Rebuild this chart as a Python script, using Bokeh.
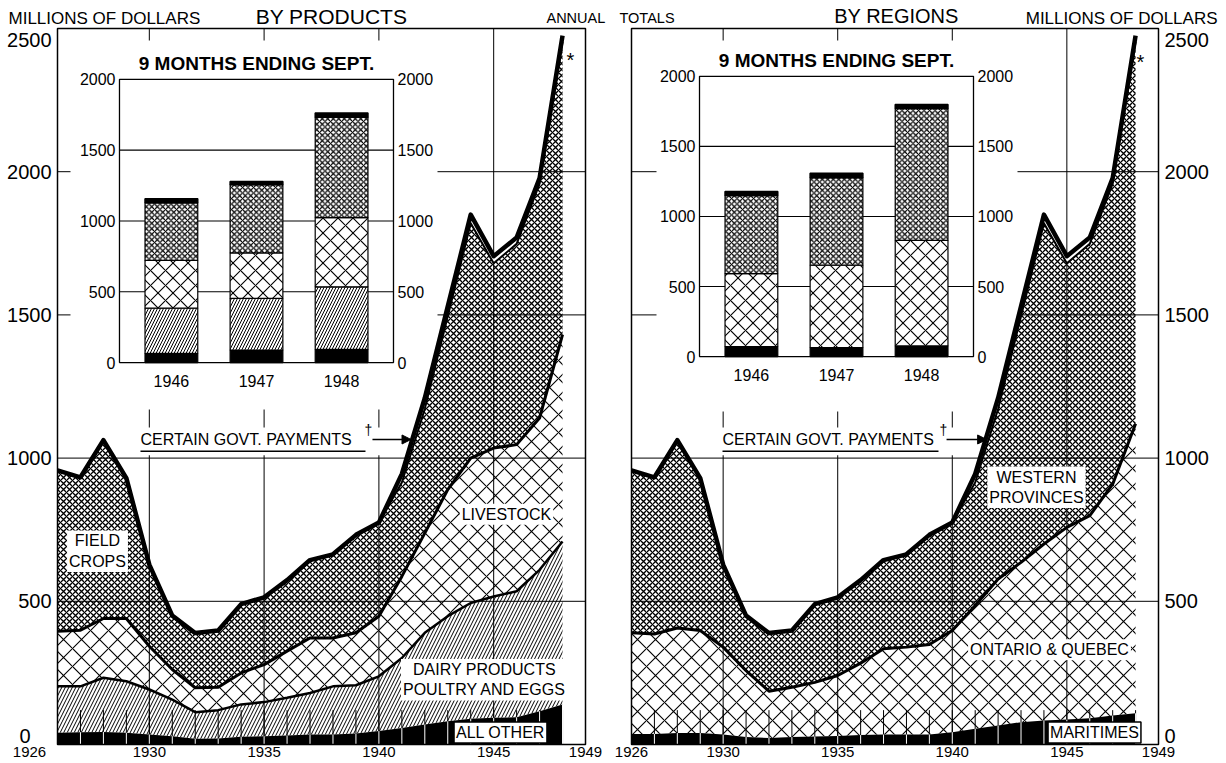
from bokeh.plotting import figure
from bokeh.models import Range1d, ColumnDataSource, Label, Arrow, NormalHead
from bokeh.layouts import row
from bokeh.transform import stack
from bokeh.core.properties import value
from bokeh.embed import file_html
from bokeh.resources import INLINE

FONT = "Liberation Sans"

# ---------------- data (millions of dollars) ----------------
years = list(range(1926, 1949))

# by products
all_other = [41, 43, 44, 41, 35, 29, 20, 21, 27, 29, 31, 35, 35, 38, 47, 58, 70, 81, 90, 93, 95, 116, 140]
dairy_poultry_eggs = [162, 160, 189, 180, 157, 128, 93, 99, 113, 119, 132, 145, 168, 169, 191, 244, 320, 367, 404, 424, 440, 494, 569]
livestock = [192, 196, 207, 219, 151, 105, 85, 80, 110, 131, 163, 192, 169, 183, 210, 285, 348, 442, 506, 518, 512, 530, 722]
field_crops = [562, 534, 623, 490, 285, 188, 191, 198, 240, 235, 248, 272, 292, 342, 327, 328, 434, 605, 820, 645, 701, 818, 1022]
govt_payments = [0, 0, 0, 0, 0, 0, 0, 0, 0, 0, 0, 0, 0, 0, 0, 30, 38, 35, 30, 25, 22, 20, 22]

# by regions
maritimes = [37, 37, 40, 40, 35, 26, 23, 26, 28, 30, 33, 35, 35, 35, 43, 55, 66, 78, 84, 87, 92, 101, 109]
ontario_quebec = [353, 349, 367, 358, 305, 232, 163, 174, 189, 211, 251, 299, 305, 314, 355, 430, 512, 558, 616, 671, 707, 808, 1011]
western_provinces = [567, 547, 656, 532, 288, 192, 203, 198, 273, 273, 290, 310, 324, 383, 377, 430, 594, 859, 1120, 922, 949, 1049, 1333]

# 9 months ending September
sept_years = [1946, 1947, 1948]
sept_all_other = [65, 88, 93]
sept_dairy = [319, 365, 442]
sept_livestock = [337, 321, 488]
sept_field_crops = [407, 482, 710]
sept_govt_p = [28, 23, 30]
sept_maritimes = [71, 64, 76]
sept_ontario_quebec = [521, 588, 753]
sept_western = [557, 625, 941]
sept_govt_r = [29, 31, 29]

y_ticks = [0, 500, 1000, 1500, 2000, 2500]
inset_ticks = [0, 500, 1000, 1500, 2000]
x_label_years = [1926, 1930, 1935, 1940, 1945, 1949]
grid_years = [1930, 1935, 1940, 1945]
grid_values = [500, 1000, 1500, 2000]
tick_years = list(range(1927, 1949))

X0, X1, Y0, Y1 = 1926, 1949, 0, 2500
FIG_H = 761
# end labels of the value scale sit slightly inside the frame (layout nudges, value units)
Y_LABEL_NUDGE = {0: 30, 2500: -40}

# ---------------- styles ----------------
MAIN_STYLE = {
    "black": dict(fill_color="black", fill_alpha=1),
    "diag": dict(fill_alpha=0, hatch_pattern="/", hatch_scale=7, hatch_weight=1.0, hatch_color="black"),
    "open": dict(fill_alpha=0, hatch_pattern="x", hatch_scale=18, hatch_weight=1.1, hatch_color="black"),
    "dense": dict(fill_alpha=0, hatch_pattern="x", hatch_scale=6, hatch_weight=1.3, hatch_color="black"),
    "white": dict(fill_color="white", fill_alpha=1),
}
BAR_STYLE = {
    "black": dict(fill_color="black", line_width=1.2),
    "diag": dict(fill_color="white", hatch_pattern="/", hatch_scale=6, hatch_weight=1.0, hatch_color="black", line_width=1.2),
    "open": dict(fill_color="white", hatch_pattern="x", hatch_scale=15, hatch_weight=1.1, hatch_color="black", line_width=1.2),
    "dense": dict(fill_color="white", hatch_pattern="x", hatch_scale=5.5, hatch_weight=1.2, hatch_color="black", line_width=1.2),
    "white": dict(fill_color="black", line_width=1.5),
}


def linked_range(lo, hi, m0, m1, i0, i1):
    k = (m1 - m0) / (i1 - i0)
    return Range1d(start=i0 + (lo - m0) / k, end=i0 + (hi - m0) / k)


def lab(p, x, y, text, size="16px", align="center", baseline="middle", **kw):
    p.add_layout(Label(x=x, y=y, text=text, text_font=FONT, text_font_size=size,
                       text_align=align, text_baseline=baseline, text_color="black", **kw))


def panel(width, bx0, bx1, by0, by1, y_side, x_label_dx, y_label_dx, layers, line_levels, sept_layers,
          ix_main, iy_main, box, govt_box, note_x, arrow_x, star, labels, headers):
    kx = (X1 - X0) / (bx1 - bx0)
    ky = (Y1 - Y0) / (by1 - by0)
    xr = Range1d(X0 - bx0 * kx, X1 + (width - bx1) * kx)
    yr = Range1d(Y0 - (FIG_H - by1) * ky, Y1 + by0 * ky)
    p = figure(width=width, height=FIG_H, x_range=xr, y_range=yr,
               output_backend="svg", toolbar_location=None,
               x_axis_location=None, y_axis_location=None, min_border=0,
               background_fill_color="white", border_fill_color="white", outline_line_color=None)
    p.grid.visible = False

    # grid
    p.segment(x0=grid_years, x1=grid_years, y0=[Y0] * 4, y1=[Y1] * 4, line_color="black", line_width=1)
    p.segment(x0=[X0] * 4, x1=[X1] * 4, y0=grid_values, y1=grid_values, line_color="black", line_width=1)

    # white panels that hide the grid behind the inset and the note
    p.quad(left=[box[0]], right=[box[1]], bottom=[box[2]], top=[box[3]], fill_color="white", line_color=None)
    p.quad(left=[govt_box[0]], right=[govt_box[1]], bottom=[govt_box[2]], top=[govt_box[3]],
           fill_color="white", line_color=None)

    # stacked areas
    data = {"year": years}
    names = []
    for name, vals, sty in layers:
        data[name] = vals
        names.append(name)
    src = ColumnDataSource(data)
    for i, (name, vals, sty) in enumerate(layers):
        y1 = stack(*names[:i]) if i else 0
        p.varea(x="year", y1=y1, y2=stack(*names[:i + 1]), source=src, **MAIN_STYLE[sty])
    for k, w in line_levels:
        p.line(x="year", y=stack(*names[:k]), source=src, line_color="black", line_width=w, line_join="round")

    # year ticks along the bottom (white where they cross the black layer) and the chart border
    p.segment(x0=tick_years, x1=tick_years, y0=[Y0] * len(tick_years), y1=[120] * len(tick_years),
              line_color="black", line_width=1)
    p.segment(x0="year", x1="year", y0=0, y1=stack(names[0]), source=src, line_color="white", line_width=1)
    p.quad(left=[X0], right=[X1], bottom=[Y0], top=[Y1], fill_color=None, line_color="black", line_width=1.5)

    # axis labels
    tk = dict(text_font=value(FONT), text_color="black", text_baseline="middle")
    xl = ColumnDataSource(dict(x=x_label_years, t=[str(y) for y in x_label_years], dx=x_label_dx))
    p.text(x="x", y=-25, text="t", x_offset="dx", source=xl, text_align="center",
           text_font_size="15px", **tk)
    yl = ColumnDataSource(dict(y=[v + Y_LABEL_NUDGE.get(v, 0) for v in y_ticks],
                               t=[str(v) for v in y_ticks], dx=y_label_dx))
    if y_side == "left":
        p.text(x=X0, y="y", text="t", x_offset="dx", source=yl, text_align="right",
               text_font_size="20px", **tk)
    else:
        p.text(x=X1, y="y", text="t", x_offset="dx", source=yl, text_align="left",
               text_font_size="20px", **tk)

    # inset
    p.extra_x_ranges = {"ix": linked_range(xr.start, xr.end, ix_main[0], ix_main[1], 1945.39, 1948.61)}
    p.extra_y_ranges = {"iy": linked_range(yr.start, yr.end, iy_main[0], iy_main[1], 0, 2000)}
    kw = dict(x_range_name="ix", y_range_name="iy")
    IX0, IX1 = 1945.39, 1948.61
    p.segment(x0=[IX0] * 3, x1=[IX1] * 3, y0=[500, 1000, 1500], y1=[500, 1000, 1500],
              line_color="black", line_width=1.1, **kw)
    sdata = {"year": sept_years, "label": [str(y) for y in sept_years]}
    snames = []
    for name, vals, sty in sept_layers:
        sdata[name] = vals
        snames.append(name)
    ssrc = ColumnDataSource(sdata)
    for i, (name, vals, sty) in enumerate(sept_layers):
        bottom = stack(*snames[:i]) if i else 0
        p.vbar(x="year", width=0.62, bottom=bottom, top=stack(*snames[:i + 1]), source=ssrc,
               line_color="black", **BAR_STYLE[sty], **kw)
    p.quad(left=[IX0], right=[IX1], bottom=[0], top=[2000], fill_color=None,
           line_color="black", line_width=1.3, **kw)
    p.text(x=[IX0] * 5, y=inset_ticks, text=[str(t) for t in inset_ticks], x_offset=-4,
           text_align="right", text_font_size="16px", **tk, **kw)
    p.text(x=[IX1] * 5, y=inset_ticks, text=[str(t) for t in inset_ticks], x_offset=4,
           text_align="left", text_font_size="16px", **tk, **kw)
    p.text(x="year", y=-132, text="label", source=ssrc, text_align="center", text_font_size="16px", **tk, **kw)
    p.text(x=[(IX0 + IX1) / 2], y=[2113], text=["9 MONTHS ENDING SEPT."], text_align="center",
           text_font_size="19px", text_font_style="bold", **tk, **kw)

    # certain govt payments note
    lab(p, note_x[0], 1065, "CERTAIN GOVT. PAYMENTS", align="left")
    p.segment(x0=[note_x[0]], x1=[note_x[1]], y0=[1024], y1=[1024], line_color="black", line_width=1.5)
    lab(p, note_x[2], 1097, "\u2020", size="14px")
    p.add_layout(Arrow(end=NormalHead(size=9, fill_color="black", line_color="black"),
                       x_start=arrow_x[0], y_start=1065, x_end=arrow_x[1], y_end=1065,
                       line_color="black", line_width=1.3))
    lab(p, star[0], star[1], "*", size="20px")
    for (x, y, t, boxed) in labels:
        extra = dict(background_fill_color="white", background_fill_alpha=1, padding=2)
        if boxed:
            extra.update(border_line_color="black", border_line_width=1.5)
        lab(p, x, y, t, **extra)
    for (x, y, t, size, align) in headers:
        lab(p, x, y, t, size=size, align=align)
    return p


left = panel(610, 57, 585, 28, 744, "left", [-28, 0, 0, 0, 0, 0], [-27, -6, -6, -6, -6, -6],
             [("all_other", all_other, "black"), ("dairy", dairy_poultry_eggs, "diag"),
              ("livestock", livestock, "open"), ("field_crops", field_crops, "dense"),
              ("govt", govt_payments, "white")],
             [(2, 2.5), (3, 3), (4, 2), (5, 4.5)],
             [("s_other", sept_all_other, "black"), ("s_dairy", sept_dairy, "diag"),
              ("s_live", sept_livestock, "open"), ("s_field", sept_field_crops, "dense"),
              ("s_govt", sept_govt_p, "white")],
             (1928.70, 1940.636), (1333.6, 2322.4),
             (1926.566, 1942.553, 1170, 2458), (1929.398, 1941.464, 1010, 1107),
             (1929.615, 1939.416, 1939.547), (1939.72, 1941.40), (1948.346, 2389),
             [(1927.742, 675, "FIELD\nCROPS", False), (1945.558, 804, "LIVESTOCK", False),
              (1944.60, 226, "DAIRY PRODUCTS\nPOULTRY AND EGGS", False), (1945.297, 42, "ALL OTHER", True)],
             [(1923.866, 2535, "MILLIONS OF DOLLARS", "17px", "left"),
              (1937.935, 2542, "BY PRODUCTS", "21px", "center"),
              (1947.30, 2535, "ANNUAL", "14.5px", "left")])

right = panel(614, 21, 548, 28, 744, "right", [0, 0, 0, 0, 0, 0], [6, 6, 6, 6, 6, 6],
              [("maritimes", maritimes, "black"), ("ont_que", ontario_quebec, "open"),
               ("western", western_provinces, "dense"), ("govt", govt_payments, "white")],
              [(2, 3), (3, 2), (4, 4.5)],
              [("s_mar", sept_maritimes, "black"), ("s_oq", sept_ontario_quebec, "open"),
               ("s_west", sept_western, "dense"), ("s_govt", sept_govt_r, "white")],
              (1928.968, 1940.926), (1354.5, 2332.9),
              (1927.091, 1942.846, 1163, 2458), (1929.753, 1941.799, 1010, 1107),
              (1929.972, 1939.398, 1939.617), (1939.75, 1941.5), (1948.214, 2382),
              [(1943.675, 898, "WESTERN\nPROVINCES", False), (1944.243, 331, "ONTARIO & QUEBEC", False),
               (1946.207, 42, "MARITIMES", True)],
              [(1925.476, 2535, "TOTALS", "14.5px", "left"),
               (1937.566, 2542, "BY REGIONS", "20px", "center"),
               (1951.575, 2535, "MILLIONS OF DOLLARS", "17px", "right")])

layout = row(left, right)
open("out.html", "w").write(file_html(layout, INLINE))
